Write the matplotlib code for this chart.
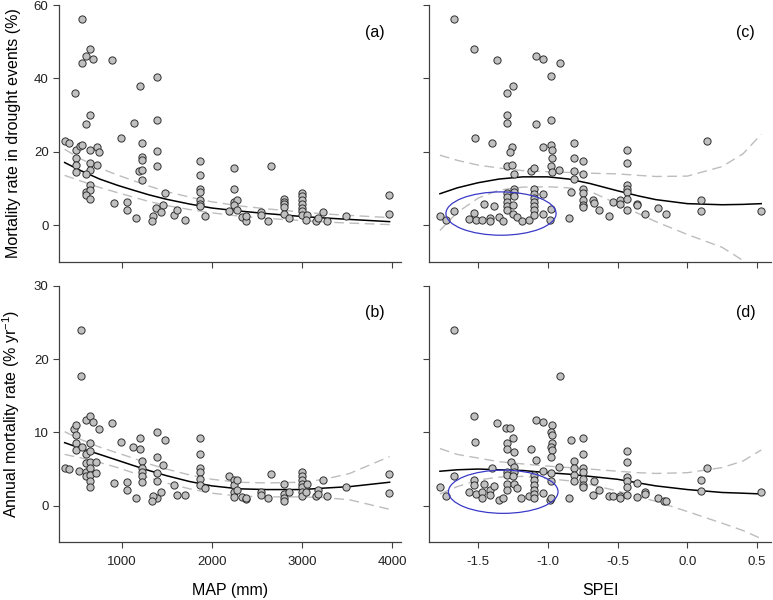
import numpy as np
import matplotlib
matplotlib.use("Agg")
import matplotlib.pyplot as plt
from matplotlib.patches import Ellipse

plt.rcParams.update({
    "font.family": ["Liberation Sans", "DejaVu Sans"],
    "font.size": 9.5,
    "mathtext.fontset": "custom",
    "mathtext.rm": "Liberation Sans",
    "mathtext.it": "Liberation Sans:italic",
})

# ---- (a) drought mortality vs MAP
a_map = [367, 411, 474, 493, 493, 493, 493, 530, 552, 552, 552, 596, 648, 678, 604, 641, 641,
         648, 648, 596, 648, 596, 648, 596, 648, 722, 744, 722, 893, 911, 993, 1052, 1059,
         1152, 1130, 1196, 1222, 1222, 1222, 1189, 1222, 1222, 1389, 1389, 1389, 1389, 1481,
         1456, 1381, 1433, 1344, 1337, 1574, 1607, 1704, 1863, 1863, 1863, 1863, 1863, 1863,
         1863, 1919, 2189, 2244, 2244, 2244, 2281, 2244, 2281, 2333, 2374, 2374, 2541, 2541,
         2626, 2659, 2796, 2796, 2796, 2796, 2796, 2856, 2996, 2996, 2996, 2996, 2996, 2996,
         2996, 3056, 3041, 3159, 3178, 3233, 3278, 3493, 3963, 3963]
a_mort = [22.9, 22.5, 36.0, 20.6, 18.4, 16.5, 14.5, 21.6, 22.0, 56.1, 44.2, 46.1, 48.0, 45.2,
          27.5, 30.0, 20.5, 17.0, 15.2, 13.9, 10.9, 9.1, 9.5, 8.2, 7.3, 21.4, 20.0, 16.5, 45.0,
          6.1, 23.9, 6.3, 4.1, 2.0, 27.9, 37.9, 22.3, 18.6, 17.9, 14.7, 15.0, 12.3, 40.5, 28.8,
          20.2, 16.2, 8.9, 5.5, 4.6, 3.7, 2.5, 1.2, 2.7, 4.1, 1.4, 17.5, 13.8, 10.0, 9.0, 7.0,
          5.9, 5.2, 2.5, 3.9, 15.5, 10.0, 6.4, 7.0, 5.5, 4.1, 2.3, 1.1, 2.5, 3.5, 2.9, 1.1,
          16.1, 7.3, 6.4, 5.7, 5.0, 3.2, 2.0, 8.8, 7.9, 7.0, 5.9, 4.8, 3.8, 2.7, 2.7, 1.5, 1.2,
          2.1, 3.5, 1.2, 2.5, 8.2, 3.1]

# ---- (b) annual mortality vs MAP
b_map = [367, 411, 463, 485, 493, 493, 493, 522, 548, 548, 559, 596, 596, 604, 596, 596, 641,
         641, 641, 641, 641, 641, 641, 641, 678, 744, 715, 715, 893, 911, 993, 1052, 1059,
         1152, 1126, 1196, 1196, 1222, 1222, 1222, 1222, 1222, 1389, 1389, 1389, 1389, 1481,
         1456, 1389, 1433, 1344, 1337, 1574, 1607, 1704, 1863, 1863, 1863, 1863, 1863, 1863,
         1919, 2189, 2244, 2244, 2281, 2244, 2281, 2244, 2333, 2374, 2374, 2541, 2541, 2626,
         2659, 2796, 2796, 2796, 2796, 2856, 2996, 2996, 2996, 2996, 2996, 2996, 2996, 3056,
         3041, 3159, 3178, 3178, 3233, 3278, 3493, 3963, 3963]
b_mort = [5.1, 5.0, 10.5, 11.0, 9.6, 8.6, 7.6, 4.8, 24.0, 17.7, 8.0, 11.7, 7.1, 5.8, 4.6, 4.1,
          12.2, 8.6, 7.4, 6.0, 5.2, 4.2, 3.3, 2.6, 11.4, 10.5, 5.9, 4.5, 11.3, 3.1, 8.7, 3.2,
          2.1, 1.0, 8.0, 9.2, 7.7, 6.1, 5.1, 4.6, 4.0, 3.2, 10.0, 6.6, 4.4, 3.4, 9.0, 5.5, 1.0,
          1.9, 1.3, 0.6, 2.8, 1.5, 1.5, 9.2, 7.1, 5.2, 4.6, 3.6, 2.8, 2.4, 4.0, 3.5, 2.8, 3.5,
          1.9, 2.1, 1.2, 1.2, 0.9, 1.0, 1.9, 1.5, 1.0, 4.3, 3.0, 1.6, 1.1, 0.6, 1.9, 4.6, 4.1,
          3.5, 3.0, 2.5, 1.9, 1.3, 2.9, 1.9, 1.3, 2.2, 1.6, 3.5, 1.3, 2.5, 4.3, 1.7]

# ---- (c) drought mortality vs SPEI
c_spei = [-1.774, -1.733, -1.671, -1.671, -1.531, -1.521, -1.564, -1.531, -1.517, -1.471,
          -1.460, -1.412, -1.412, -1.400, -1.388, -1.364, -1.352, -1.321, -1.290, -1.290,
          -1.290, -1.290, -1.290, -1.290, -1.290, -1.290, -1.290, -1.260, -1.274, -1.250,
          -1.260, -1.243, -1.243, -1.243, -1.243, -1.250, -1.250, -1.221, -1.186, -1.138,
          -1.124, -1.100, -1.102, -1.102, -1.102, -1.102, -1.102, -1.102, -1.102, -1.083,
          -1.083, -1.033, -1.033, -1.033, -1.033, -0.981, -0.981, -0.981, -0.971, -0.971,
          -0.981, -0.971, -0.981, -0.988, -0.921, -0.912, -0.850, -0.833, -0.810, -0.810,
          -0.810, -0.810, -0.750, -0.750, -0.750, -0.750, -0.750, -0.750, -0.750, -0.679,
          -0.669, -0.631, -0.560, -0.531, -0.481, -0.481, -0.431, -0.431, -0.431, -0.431,
          -0.431, -0.431, -0.431, -0.362, -0.362, -0.302, -0.212, -0.155, 0.100, 0.100,
          0.143, 0.531]
c_mort = [2.5, 1.4, 3.9, 56.1, 48.0, 23.9, 1.8, 3.4, 1.5, 1.5, 5.9, 2.1, 1.2, 22.5, 5.3, 45.0,
          2.3, 1.1, 36.1, 30.0, 28.0, 16.1, 8.8, 7.7, 6.4, 5.3, 4.1, 21.4, 20.0, 37.9, 16.5,
          14.1, 10.0, 9.1, 7.9, 5.5, 3.2, 2.3, 1.1, 1.4, 14.8, 15.5, 10.0, 8.6, 7.5, 6.4, 5.2,
          4.1, 2.7, 46.1, 27.5, 45.2, 21.4, 8.4, 3.2, 40.6, 28.8, 22.0, 20.5, 18.4, 16.2, 14.5,
          4.5, 1.4, 15.0, 44.3, 2.0, 9.1, 22.3, 18.2, 14.8, 12.5, 17.5, 13.9, 10.0, 8.9, 7.0,
          5.6, 5.0, 7.0, 6.2, 4.1, 2.5, 6.4, 6.8, 5.7, 20.5, 17.0, 11.1, 10.0, 9.1, 7.3, 4.3,
          5.9, 5.6, 3.2, 4.8, 3.2, 7.0, 3.9, 22.9, 3.8]

# ---- (d) annual mortality vs SPEI
d_spei = [-1.774, -1.733, -1.671, -1.671, -1.531, -1.521, -1.564, -1.531, -1.531, -1.517,
          -1.471, -1.471, -1.460, -1.412, -1.412, -1.400, -1.388, -1.364, -1.352, -1.321,
          -1.298, -1.274, -1.290, -1.290, -1.290, -1.290, -1.290, -1.290, -1.267, -1.250,
          -1.243, -1.243, -1.243, -1.250, -1.243, -1.221, -1.190, -1.138, -1.124, -1.083,
          -1.102, -1.102, -1.102, -1.102, -1.102, -1.102, -1.083, -1.033, -1.033, -1.033,
          -0.971, -0.981, -0.971, -0.971, -0.981, -0.971, -0.981, -0.981, -0.981, -0.988,
          -0.981, -0.921, -0.912, -0.850, -0.833, -0.810, -0.810, -0.810, -0.810, -0.750,
          -0.750, -0.750, -0.750, -0.750, -0.750, -0.750, -0.679, -0.669, -0.631, -0.560,
          -0.531, -0.481, -0.481, -0.431, -0.431, -0.431, -0.431, -0.431, -0.431, -0.362,
          -0.362, -0.302, -0.302, -0.212, -0.167, -0.155, 0.100, 0.100, 0.143, 0.531]
d_mort = [2.6, 1.3, 4.0, 24.0, 12.3, 8.7, 1.9, 3.5, 2.8, 1.6, 1.8, 1.0, 3.0, 2.1, 1.5, 5.1,
          2.7, 11.3, 0.8, 1.0, 10.6, 10.6, 8.6, 7.8, 4.6, 4.2, 3.0, 2.1, 5.9, 9.2, 7.3, 5.3,
          4.6, 4.0, 3.0, 2.4, 1.0, 1.3, 7.7, 6.2, 4.2, 3.5, 2.8, 2.1, 1.6, 1.1, 11.7, 11.4,
          4.8, 1.7, 11.0, 10.0, 9.6, 8.6, 8.0, 7.6, 6.6, 4.5, 3.3, 0.8, 1.0, 5.3, 17.7, 1.0,
          9.0, 6.1, 5.1, 4.2, 3.3, 9.2, 7.1, 5.2, 4.6, 3.6, 2.8, 2.6, 1.5, 3.3, 2.1, 1.3, 1.3,
          1.3, 1.1, 7.4, 6.0, 3.9, 3.4, 2.6, 1.5, 3.1, 1.2, 1.8, 1.6, 1.0, 0.7, 0.7, 3.5, 2.0,
          5.1, 1.9]

# ---- fitted curves with confidence bands
map_grid = [363, 550, 752, 950, 1122, 1300, 1493, 1750, 2000, 2300, 2604, 3000, 3250, 3530, 3974]
a_fit = [17.1, 14.8, 12.6, 10.9, 9.6, 8.3, 7.1, 5.8, 4.7, 3.9, 3.2, 2.4, 2.0, 1.6, 1.0]
a_hi = [20.7, 18.0, 15.6, 13.7, 12.2, 10.7, 9.2, 7.7, 6.4, 5.3, 4.5, 3.6, 3.1, 2.7, 2.1]
a_lo = [13.6, 12.0, 10.3, 8.9, 7.7, 6.5, 5.4, 4.3, 3.4, 2.5, 1.9, 1.3, 0.9, 0.6, 0.2]
b_fit = [8.6, 7.8, 7.0, 6.2, 5.5, 4.8, 4.1, 3.3, 2.7, 2.3, 2.2, 2.2, 2.4, 2.6, 3.2]
b_hi = [10.1, 9.0, 8.0, 7.2, 6.5, 5.7, 5.0, 4.2, 3.6, 3.2, 3.1, 3.2, 3.6, 4.4, 6.7]
b_lo = [7.0, 6.5, 5.9, 5.2, 4.5, 3.8, 3.1, 2.3, 1.7, 1.3, 1.2, 1.2, 1.1, 0.8, -0.5]

spei_grid = [-1.774, -1.65, -1.5, -1.35, -1.18, -1.0, -0.85, -0.7, -0.5, -0.35, -0.226, 0.0, 0.25, 0.4, 0.53]
c_fit = [8.6, 10.2, 11.6, 12.6, 13.2, 13.2, 12.6, 11.4, 9.4, 8.0, 7.0, 5.9, 5.6, 5.7, 5.9]
c_hi = [19.1, 17.7, 16.4, 15.6, 14.9, 14.6, 14.4, 14.2, 14.0, 13.6, 13.3, 13.4, 16.0, 19.5, 24.8]
c_lo = [-1.4, 3.5, 7.4, 9.6, 10.4, 10.5, 10.2, 9.3, 5.8, 3.2, 1.0, -2.5, -6.0, -9.6, -12.5]
d_fit = [4.7, 4.9, 5.0, 4.9, 4.8, 4.5, 4.3, 4.0, 3.6, 3.1, 2.7, 2.2, 1.8, 1.7, 1.6]
d_hi = [7.8, 7.0, 6.5, 6.0, 5.7, 5.4, 5.2, 5.0, 4.7, 4.5, 4.4, 4.5, 5.2, 6.1, 7.6]
d_lo = [1.6, 2.6, 3.5, 3.9, 4.0, 3.7, 3.4, 2.9, 2.0, 1.2, 0.6, -0.8, -2.4, -3.4, -4.5]

# highlighted clusters: (centre x, centre y, width, height)
c_ellipse = (-1.336, 3.2, 0.79, 11.8)
d_ellipse = (-1.32, 1.9, 0.786, 5.9)

pt_face = '#c0c0c0'
pt_edge = '#303030'
ci_color = '#bdbdbd'
axis_color = '#404040'

fig = plt.figure(figsize=(7.73, 6), dpi=100)
ax_a = fig.add_axes([0.0763, 0.5633, 0.4424, 0.4283])
ax_b = fig.add_axes([0.0763, 0.0962, 0.4424, 0.4272])
ax_c = fig.add_axes([0.5554, 0.5633, 0.4420, 0.4283])
ax_d = fig.add_axes([0.5554, 0.0962, 0.4420, 0.4272])


def draw(ax, x, y, gx, fit, hi, lo, tag):
    ax.plot(gx, hi, color=ci_color, lw=1.0, ls=(0, (7, 4)), zorder=1)
    ax.plot(gx, lo, color=ci_color, lw=1.0, ls=(0, (7, 4)), zorder=1)
    ax.plot(gx, fit, color='black', lw=1.1, zorder=2)
    ax.scatter(x, y, s=27, c=pt_face, edgecolors=pt_edge, linewidths=0.7, zorder=3)
    ax.text(0.925, 0.895, tag, transform=ax.transAxes, ha='center', va='center', fontsize=11.5)
    for side in ('top', 'right'):
        ax.spines[side].set_visible(False)
    for side in ('left', 'bottom'):
        ax.spines[side].set_color(axis_color)
        ax.spines[side].set_linewidth(0.9)
    ax.tick_params(direction='out', length=4, width=0.8, color=axis_color, pad=3.5,
                   labelsize=9.5, labelcolor='#222222')
    ax.tick_params(axis='x', pad=6)


draw(ax_a, a_map, a_mort, map_grid, a_fit, a_hi, a_lo, '(a)')
draw(ax_b, b_map, b_mort, map_grid, b_fit, b_hi, b_lo, '(b)')
draw(ax_c, c_spei, c_mort, spei_grid, c_fit, c_hi, c_lo, '(c)')
draw(ax_d, d_spei, d_mort, spei_grid, d_fit, d_hi, d_lo, '(d)')

for ax in (ax_a, ax_b):
    ax.set_xlim(300, 4100)
    ax.set_xticks([1000, 2000, 3000, 4000])
for ax in (ax_c, ax_d):
    ax.set_xlim(-1.85, 0.6)
    ax.set_xticks([-1.5, -1.0, -0.5, 0.0, 0.5])
    ax.xaxis.set_major_formatter(matplotlib.ticker.FormatStrFormatter('%.1f'))
for ax in (ax_a, ax_c):
    ax.set_ylim(-10, 60)
    ax.set_yticks([0, 20, 40, 60])
    ax.tick_params(labelbottom=False)
for ax in (ax_b, ax_d):
    ax.set_ylim(-5, 30)
    ax.set_yticks([0, 10, 20, 30])
for ax in (ax_c, ax_d):
    ax.tick_params(labelleft=False)

for ax, e in ((ax_c, c_ellipse), (ax_d, d_ellipse)):
    ax.add_patch(Ellipse((e[0], e[1]), e[2], e[3], fill=False, edgecolor='#3a3ac8',
                         lw=0.9, zorder=4))

ax_a.set_ylabel('Mortality rate in drought events (%)', fontsize=11.5)
ax_b.set_ylabel('Annual mortality rate (% yr$^{-1}$)', fontsize=11.5)
ax_a.yaxis.set_label_coords(-0.11, 0.5)
ax_b.yaxis.set_label_coords(-0.108, 0.5)
ax_b.set_xlabel('MAP (mm)', fontsize=11.5)
ax_d.set_xlabel('SPEI', fontsize=11.5)
ax_b.xaxis.set_label_coords(0.5, -0.16)
ax_d.xaxis.set_label_coords(0.5, -0.16)

fig.savefig('out.png', dpi=100)
